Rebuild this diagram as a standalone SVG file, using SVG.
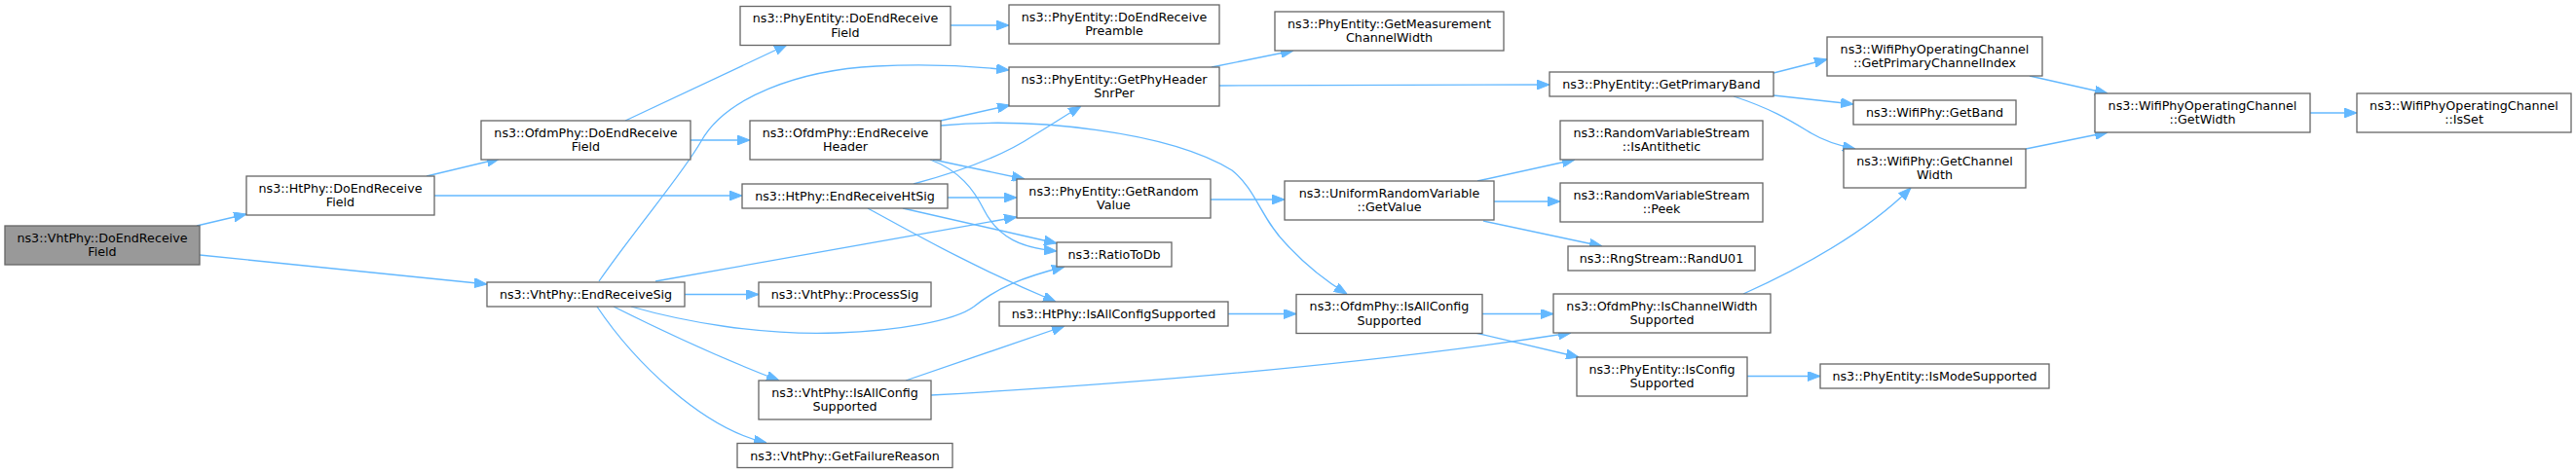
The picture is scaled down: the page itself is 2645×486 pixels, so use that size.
<svg xmlns="http://www.w3.org/2000/svg" width="2645" height="486" viewBox="0 0 2645 486">
<style>
.n rect{fill:#fff;stroke:#666;stroke-width:1.3}
.root rect{fill:#999}
text{font-family:"DejaVu Sans","Liberation Sans",sans-serif;font-size:12.7px;fill:#000;text-anchor:middle}
.e path{fill:none;stroke:#63b8ff;stroke-width:1.3;marker-end:url(#ah)}
</style>
<defs>
<marker id="ah" viewBox="0 0 13 10" refX="13" refY="5" markerWidth="13" markerHeight="10" markerUnits="userSpaceOnUse" orient="auto">
<path d="M0,0 L13,5 L0,10 z" fill="#63b8ff" stroke="#63b8ff" stroke-width="1"/>
</marker>
</defs>
<rect width="2645" height="486" fill="#fff"/>
<g class="e" id="edges">
<path d="M202,232 L253,220"/>
<path d="M205,262 L500,292"/>
<path d="M438,181 L513,163"/>
<path d="M446,201 L762,201"/>
<path d="M642,124 L808,46"/>
<path d="M709,144 L770,144"/>
<path d="M976,26 L1036,26"/>
<path d="M966,124 L1037,108"/>
<path d="M966,129 C1060,120 1200,135 1265,175 C1290,195 1295,225 1320,250 C1340,272 1360,288 1383,302"/>
<path d="M958,164 L1052,184"/>
<path d="M955,164 C985,175 1000,195 1010,215 C1025,245 1050,255 1085,258"/>
<path d="M938,189 C990,175 1030,160 1060,140 C1080,128 1095,118 1110,109"/>
<path d="M973,203 L1044,203"/>
<path d="M927,214 L1085,250"/>
<path d="M891,214 C935,238 1000,275 1084,310"/>
<path d="M615,289 C660,225 700,180 720,145 C745,100 820,72 900,68 C960,65 1000,68 1036,72"/>
<path d="M673,289 L1044,223"/>
<path d="M703,302.5 L779,302.5"/>
<path d="M648,315 C700,330 780,345 860,342 C920,340 980,330 1000,315 C1025,295 1050,285 1093,274"/>
<path d="M630,315 C690,345 745,370 800,391"/>
<path d="M613,315 C650,370 720,440 787,455"/>
<path d="M930,391 L1093,335"/>
<path d="M956,406 C1150,395 1400,375 1613,342"/>
<path d="M1261,322.5 L1331,322.5"/>
<path d="M1244,69 L1328,52"/>
<path d="M1252,88 L1591,87"/>
<path d="M1243,205 L1319,205"/>
<path d="M1517,186 L1617,164"/>
<path d="M1534,207 L1602,207"/>
<path d="M1523,227 L1645,253"/>
<path d="M1522,322.5 L1595,322.5"/>
<path d="M1515,342 L1621,367"/>
<path d="M1790,302 C1850,275 1915,240 1962,193"/>
<path d="M1794,386.5 L1869,386.5"/>
<path d="M1821,75 L1876,61"/>
<path d="M1821,98 L1903,107"/>
<path d="M1780,99 C1820,112 1840,125 1860,137 C1875,146 1890,150 1905,153"/>
<path d="M2084,78 L2164,96"/>
<path d="M2080,153 L2164,136"/>
<path d="M2372,116 L2420,116"/>
</g>
<g class="n root" id="n0"><rect x="5" y="232" width="200" height="40"/><text x="105" y="248.5">ns3::VhtPhy::DoEndReceive</text><text x="105" y="263">Field</text></g>
<g class="n" id="n1"><rect x="253" y="181" width="193" height="40"/><text x="349.5" y="197.5">ns3::HtPhy::DoEndReceive</text><text x="349.5" y="212">Field</text></g>
<g class="n" id="n2"><rect x="494" y="124" width="215" height="40"/><text x="601.5" y="140.5">ns3::OfdmPhy::DoEndReceive</text><text x="601.5" y="155">Field</text></g>
<g class="n" id="n3"><rect x="500" y="290" width="203" height="25"/><text x="601.5" y="307">ns3::VhtPhy::EndReceiveSig</text></g>
<g class="n" id="n4"><rect x="760" y="6.5" width="216" height="40"/><text x="868" y="23">ns3::PhyEntity::DoEndReceive</text><text x="868" y="37.5">Field</text></g>
<g class="n" id="n5"><rect x="1036" y="5" width="216" height="40"/><text x="1144" y="21.5">ns3::PhyEntity::DoEndReceive</text><text x="1144" y="36">Preamble</text></g>
<g class="n" id="n6"><rect x="1036" y="69" width="216" height="40"/><text x="1144" y="85.5">ns3::PhyEntity::GetPhyHeader</text><text x="1144" y="100">SnrPer</text></g>
<g class="n" id="n7"><rect x="770" y="124" width="196" height="40"/><text x="868" y="140.5">ns3::OfdmPhy::EndReceive</text><text x="868" y="155">Header</text></g>
<g class="n" id="n8"><rect x="762" y="189" width="211" height="25"/><text x="867.5" y="206">ns3::HtPhy::EndReceiveHtSig</text></g>
<g class="n" id="n9"><rect x="1044" y="184" width="199" height="40"/><text x="1143.5" y="200.5">ns3::PhyEntity::GetRandom</text><text x="1143.5" y="215">Value</text></g>
<g class="n" id="n10"><rect x="1085" y="249" width="118" height="25"/><text x="1144" y="266">ns3::RatioToDb</text></g>
<g class="n" id="n11"><rect x="779" y="290" width="177" height="25"/><text x="867.5" y="307">ns3::VhtPhy::ProcessSig</text></g>
<g class="n" id="n12"><rect x="1026" y="310" width="235" height="25"/><text x="1143.5" y="327">ns3::HtPhy::IsAllConfigSupported</text></g>
<g class="n" id="n13"><rect x="779" y="391" width="177" height="40"/><text x="867.5" y="407.5">ns3::VhtPhy::IsAllConfig</text><text x="867.5" y="422">Supported</text></g>
<g class="n" id="n14"><rect x="757" y="455.5" width="221" height="25"/><text x="867.5" y="472.5">ns3::VhtPhy::GetFailureReason</text></g>
<g class="n" id="n15"><rect x="1309" y="12" width="235" height="40"/><text x="1426.5" y="28.5">ns3::PhyEntity::GetMeasurement</text><text x="1426.5" y="43">ChannelWidth</text></g>
<g class="n" id="n16"><rect x="1319" y="186" width="215" height="40"/><text x="1426.5" y="202.5">ns3::UniformRandomVariable</text><text x="1426.5" y="217">::GetValue</text></g>
<g class="n" id="n17"><rect x="1331" y="302.5" width="191" height="40"/><text x="1426.5" y="319">ns3::OfdmPhy::IsAllConfig</text><text x="1426.5" y="333.5">Supported</text></g>
<g class="n" id="n18"><rect x="1591" y="74" width="230" height="25"/><text x="1706" y="91">ns3::PhyEntity::GetPrimaryBand</text></g>
<g class="n" id="n19"><rect x="1602" y="124" width="208" height="40"/><text x="1706" y="140.5">ns3::RandomVariableStream</text><text x="1706" y="155">::IsAntithetic</text></g>
<g class="n" id="n20"><rect x="1602" y="188" width="208" height="40"/><text x="1706" y="204.5">ns3::RandomVariableStream</text><text x="1706" y="219">::Peek</text></g>
<g class="n" id="n21"><rect x="1610" y="253" width="192" height="25"/><text x="1706" y="270">ns3::RngStream::RandU01</text></g>
<g class="n" id="n22"><rect x="1595" y="302" width="223" height="40"/><text x="1706.5" y="318.5">ns3::OfdmPhy::IsChannelWidth</text><text x="1706.5" y="333">Supported</text></g>
<g class="n" id="n23"><rect x="1619" y="367" width="175" height="40"/><text x="1706.5" y="383.5">ns3::PhyEntity::IsConfig</text><text x="1706.5" y="398">Supported</text></g>
<g class="n" id="n24"><rect x="1869" y="374" width="235" height="25"/><text x="1986.5" y="391">ns3::PhyEntity::IsModeSupported</text></g>
<g class="n" id="n25"><rect x="1876" y="38" width="221" height="40"/><text x="1986.5" y="54.5">ns3::WifiPhyOperatingChannel</text><text x="1986.5" y="69">::GetPrimaryChannelIndex</text></g>
<g class="n" id="n26"><rect x="1903" y="103" width="167" height="25"/><text x="1986.5" y="120">ns3::WifiPhy::GetBand</text></g>
<g class="n" id="n27"><rect x="1893" y="153" width="187" height="40"/><text x="1986.5" y="169.5">ns3::WifiPhy::GetChannel</text><text x="1986.5" y="184">Width</text></g>
<g class="n" id="n28"><rect x="2151" y="96" width="221" height="40"/><text x="2261.5" y="112.5">ns3::WifiPhyOperatingChannel</text><text x="2261.5" y="127">::GetWidth</text></g>
<g class="n" id="n29"><rect x="2420" y="96" width="220" height="40"/><text x="2530" y="112.5">ns3::WifiPhyOperatingChannel</text><text x="2530" y="127">::IsSet</text></g>
</svg>
